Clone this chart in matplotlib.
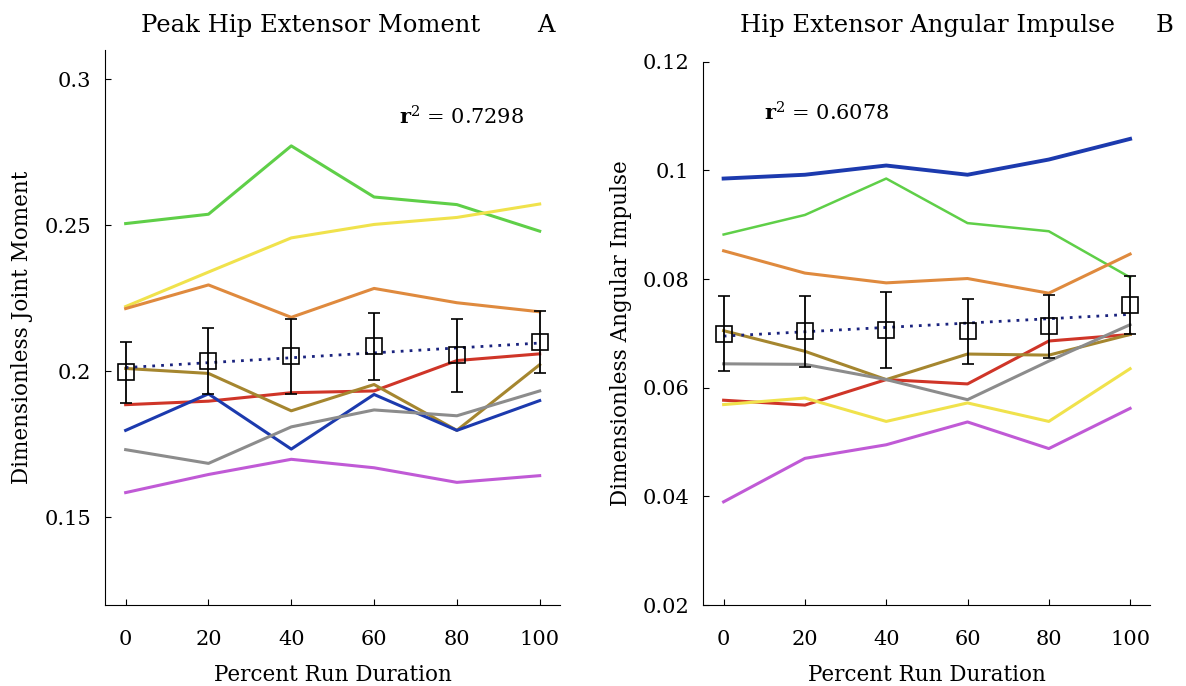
import numpy as np
import matplotlib
matplotlib.use('Agg')
import matplotlib.pyplot as plt

plt.rcParams['font.family'] = ['DejaVu Serif']
plt.rcParams['mathtext.fontset'] = 'dejavuserif'

pct = [0, 20, 40, 60, 80, 100]
colors = {'green': '#5fcf48', 'yellow': '#f0e24c', 'orange': '#df8a3e', 'red': '#cf3528',
          'tan': '#a5862f', 'blue': '#1c3aae', 'gray': '#8c8c8c', 'magenta': '#c05ad6'}

# panel A - peak hip extensor moment
momA = {
    'green':   [0.2506, 0.2538, 0.2772, 0.2597, 0.2571, 0.2480],
    'yellow':  [0.2222, 0.2340, 0.2457, 0.2503, 0.2527, 0.2573],
    'orange':  [0.2215, 0.2296, 0.2185, 0.2284, 0.2235, 0.2204],
    'red':     [0.1886, 0.1898, 0.1927, 0.1933, 0.2037, 0.2060],
    'tan':     [0.2010, 0.1993, 0.1865, 0.1955, 0.1798, 0.2023],
    'blue':    [0.1798, 0.1923, 0.1734, 0.1921, 0.1798, 0.1900],
    'gray':    [0.1732, 0.1685, 0.1810, 0.1868, 0.1848, 0.1933],
    'magenta': [0.1585, 0.1647, 0.1699, 0.1670, 0.1620, 0.1643],
}
meanA = [0.1997, 0.2037, 0.2051, 0.2086, 0.2055, 0.2101]
errA = [0.0105, 0.0113, 0.0130, 0.0115, 0.0125, 0.0106]
trendA = [0.2013, 0.2097]

# panel B - hip extensor angular impulse
impB = {
    'blue':    [0.0985, 0.0992, 0.1009, 0.0992, 0.1020, 0.1058],
    'green':   [0.0882, 0.0918, 0.0985, 0.0903, 0.0888, 0.0803],
    'orange':  [0.0852, 0.0811, 0.0793, 0.0801, 0.0774, 0.0846],
    'red':     [0.0577, 0.0568, 0.0615, 0.0607, 0.0686, 0.0698],
    'tan':     [0.0705, 0.0667, 0.0615, 0.0662, 0.0660, 0.0698],
    'gray':    [0.0644, 0.0643, 0.0615, 0.0578, 0.0649, 0.0716],
    'yellow':  [0.0569, 0.0581, 0.0538, 0.0572, 0.0538, 0.0635],
    'magenta': [0.0390, 0.0470, 0.0495, 0.0537, 0.0488, 0.0562],
}
meanB = [0.0699, 0.0704, 0.0707, 0.0704, 0.0713, 0.0752]
errB = [0.0069, 0.0065, 0.0070, 0.0060, 0.0058, 0.0053]
trendB = [0.0695, 0.0735]

fig = plt.figure(figsize=(11.86, 6.86), dpi=100)
axA = fig.add_axes([0.0885, 0.118, 0.384, 0.809])
axB = fig.add_axes([0.593, 0.118, 0.377, 0.792])


def panel(ax, data, mean, err, trend, ylim, yticks, ylabels, r2, r2pos, ylabel):
    for name, vals in data.items():
        lw = 2.8 if (name == 'blue' and ax is axB) else 2.2
        if name == 'green' and ax is axB:
            lw = 1.8
        ax.plot(pct, vals, color=colors[name], lw=lw)
    ax.plot([pct[0], pct[-1]], trend, ls=(0, (1, 2.2)), color='#1a237e', lw=2)
    ax.errorbar(pct, mean, yerr=err, fmt='s', mfc='none', mec='black', ms=11, mew=1.2,
                ecolor='black', elinewidth=1.3, capsize=4, capthick=1.3)
    ax.set_xlim(-5, 105)
    ax.set_ylim(*ylim)
    ax.set_xticks(pct)
    ax.set_yticks(yticks)
    ax.set_yticklabels(ylabels)
    ax.spines['top'].set_visible(False)
    ax.spines['right'].set_visible(False)
    ax.tick_params(direction='in', labelsize=15, length=4)
    ax.tick_params(axis='x', pad=18)
    ax.tick_params(axis='y', pad=10)
    ax.set_xlabel('Percent Run Duration', fontsize=15.5, labelpad=11)
    ax.set_ylabel(ylabel, fontsize=15.5, labelpad=8)
    ax.text(r2pos[0], r2pos[1], r'$\mathbf{r}^{2}$ = ' + r2, fontsize=15, va='center')


panel(axA, momA, meanA, errA, trendA, (0.12, 0.31), [0.15, 0.2, 0.25, 0.3],
      ['0.15', '0.2', '0.25', '0.3'], '0.7298', (66, 0.287), 'Dimensionless Joint Moment')
panel(axB, impB, meanB, errB, trendB, (0.02, 0.12), [0.02, 0.04, 0.06, 0.08, 0.1, 0.12],
      ['0.02', '0.04', '0.06', '0.08', '0.1', '0.12'], '0.6078', (10, 0.1105),
      'Dimensionless Angular Impulse')

fig.text(0.262, 0.963, 'Peak Hip Extensor Moment', fontsize=17.5, ha='center', va='center')
fig.text(0.46, 0.963, 'A', fontsize=17.5, ha='center', va='center')
fig.text(0.782, 0.963, 'Hip Extensor Angular Impulse', fontsize=17.5, ha='center', va='center')
fig.text(0.982, 0.963, 'B', fontsize=17.5, ha='center', va='center')

fig.savefig('out.png', dpi=100)
